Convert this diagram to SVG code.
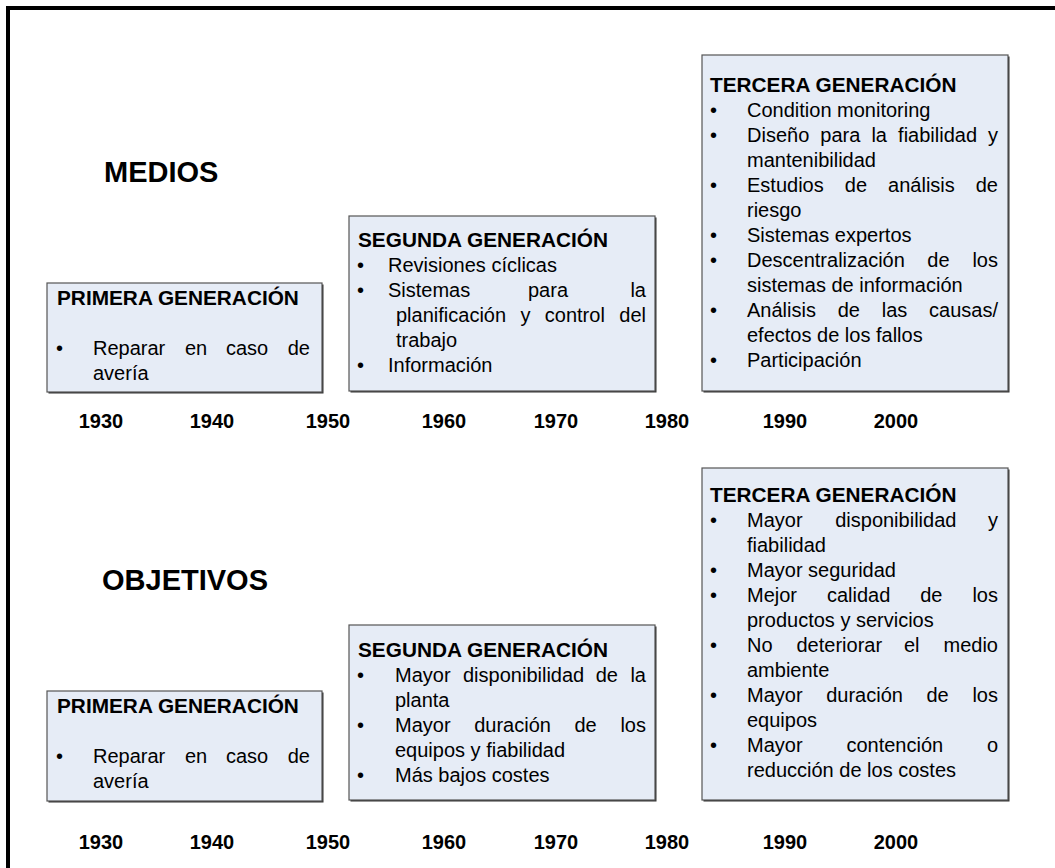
<svg xmlns="http://www.w3.org/2000/svg" width="1055" height="868" viewBox="0 0 1055 868">
<style>
text{font-family:"Liberation Sans",Arial,sans-serif;fill:#000}
.box{fill:#E6ECF6;stroke:#555;stroke-width:1.2}
.sh{fill:#333}
.t{font-size:20.8px;font-weight:bold}
.x{font-size:20px}
.yr{font-size:20px;font-weight:bold;text-anchor:middle}
.hd{font-size:29px;font-weight:bold}
.e{text-anchor:end}
</style>
<rect x="8" y="8" width="1100" height="900" fill="#fff" stroke="#000" stroke-width="4"/>

<text class="hd" x="104" y="182">MEDIOS</text>
<text class="hd" x="102" y="590">OBJETIVOS</text>

<g id="medios-primera">
<rect class="sh" x="48.5" y="284.5" width="275" height="109"/>
<rect class="box" x="47" y="283" width="275" height="109"/>
<text class="t" x="57" y="305">PRIMERA GENERACIÓN</text>
<text class="x" x="56" y="355">•</text>
<text class="x" y="355"><tspan x="93">Reparar</tspan><tspan x="185">en</tspan><tspan x="226">caso</tspan><tspan x="310" text-anchor="end">de</tspan></text>
<text class="x" x="93" y="380">avería</text>
</g>

<g id="medios-segunda">
<rect class="sh" x="350.5" y="217.5" width="306" height="175"/>
<rect class="box" x="349" y="216" width="306" height="175"/>
<text class="t" x="358" y="247">SEGUNDA GENERACIÓN</text>
<text class="x" x="357" y="272">•</text>
<text class="x" x="388" y="272">Revisiones cíclicas</text>
<text class="x" x="357" y="297">•</text>
<text class="x" y="297"><tspan x="388">Sistemas</tspan><tspan x="528">para</tspan><tspan x="646" text-anchor="end">la</tspan></text>
<text class="x" y="322"><tspan x="396">planificación</tspan><tspan x="520.4">y</tspan><tspan x="544.8">control</tspan><tspan x="646" text-anchor="end">del</tspan></text>
<text class="x" x="396" y="347">trabajo</text>
<text class="x" x="357" y="372">•</text>
<text class="x" x="388" y="372">Información</text>
</g>

<g id="medios-tercera">
<rect class="sh" x="703.5" y="56.5" width="306" height="336"/>
<rect class="box" x="702" y="55" width="306" height="336"/>
<text class="t" x="710" y="92">TERCERA GENERACIÓN</text>
<text class="x" x="710" y="117">•</text>
<text class="x" x="710" y="142">•</text>
<text class="x" x="710" y="192">•</text>
<text class="x" x="710" y="242">•</text>
<text class="x" x="710" y="267">•</text>
<text class="x" x="710" y="317">•</text>
<text class="x" x="710" y="367">•</text>
<text class="x" x="747" y="117">Condition monitoring</text>
<text class="x" y="142"><tspan x="747">Diseño</tspan><tspan x="820.3">para</tspan><tspan x="871.4">la</tspan><tspan x="898.1">fiabilidad</tspan><tspan x="998" text-anchor="end">y</tspan></text>
<text class="x" x="747" y="167">mantenibilidad</text>
<text class="x" y="192"><tspan x="747">Estudios</tspan><tspan x="844.8">de</tspan><tspan x="888.1">análisis</tspan><tspan x="998" text-anchor="end">de</tspan></text>
<text class="x" x="747" y="217">riesgo</text>
<text class="x" x="747" y="242">Sistemas expertos</text>
<text class="x" y="267"><tspan x="747">Descentralización</tspan><tspan x="927.3">de</tspan><tspan x="998" text-anchor="end">los</tspan></text>
<text class="x" x="747" y="292">sistemas de información</text>
<text class="x" y="317"><tspan x="747">Análisis</tspan><tspan x="837.7">de</tspan><tspan x="881.7">las</tspan><tspan x="998" text-anchor="end">causas/</tspan></text>
<text class="x" x="747" y="342">efectos de los fallos</text>
<text class="x" x="747" y="367">Participación</text>
</g>

<g id="years-top">
<text class="yr" x="101" y="428">1930</text>
<text class="yr" x="212" y="428">1940</text>
<text class="yr" x="328" y="428">1950</text>
<text class="yr" x="444" y="428">1960</text>
<text class="yr" x="556" y="428">1970</text>
<text class="yr" x="667" y="428">1980</text>
<text class="yr" x="785" y="428">1990</text>
<text class="yr" x="896" y="428">2000</text>
</g>

<g id="objetivos-primera">
<rect class="sh" x="48.5" y="692.5" width="275" height="110"/>
<rect class="box" x="47" y="691" width="275" height="110"/>
<text class="t" x="57" y="713">PRIMERA GENERACIÓN</text>
<text class="x" x="56" y="763">•</text>
<text class="x" y="763"><tspan x="93">Reparar</tspan><tspan x="185">en</tspan><tspan x="226">caso</tspan><tspan x="310" text-anchor="end">de</tspan></text>
<text class="x" x="93" y="788">avería</text>
</g>

<g id="objetivos-segunda">
<rect class="sh" x="350.5" y="626.5" width="306" height="175"/>
<rect class="box" x="349" y="625" width="306" height="175"/>
<text class="t" x="358" y="657">SEGUNDA GENERACIÓN</text>
<text class="x" x="357" y="682">•</text>
<text class="x" y="682"><tspan x="395">Mayor</tspan><tspan x="463">disponibilidad</tspan><tspan x="595.7">de</tspan><tspan x="646" text-anchor="end">la</tspan></text>
<text class="x" x="395" y="707">planta</text>
<text class="x" x="357" y="732">•</text>
<text class="x" y="732"><tspan x="395">Mayor</tspan><tspan x="474.2">duración</tspan><tspan x="574.5">de</tspan><tspan x="646" text-anchor="end">los</tspan></text>
<text class="x" x="395" y="757">equipos y fiabilidad</text>
<text class="x" x="357" y="782">•</text>
<text class="x" x="395" y="782">Más bajos costes</text>
</g>

<g id="objetivos-tercera">
<rect class="sh" x="703.5" y="469.5" width="306" height="332"/>
<rect class="box" x="702" y="468" width="306" height="332"/>
<text class="t" x="710" y="502">TERCERA GENERACIÓN</text>
<text class="x" x="710" y="527">•</text>
<text class="x" x="710" y="577">•</text>
<text class="x" x="710" y="602">•</text>
<text class="x" x="710" y="652">•</text>
<text class="x" x="710" y="702">•</text>
<text class="x" x="710" y="752">•</text>
<text class="x" y="527"><tspan x="747">Mayor</tspan><tspan x="835.2">disponibilidad</tspan><tspan x="998" text-anchor="end">y</tspan></text>
<text class="x" x="747" y="552">fiabilidad</text>
<text class="x" x="747" y="577">Mayor seguridad</text>
<text class="x" y="602"><tspan x="747">Mejor</tspan><tspan x="826.9">calidad</tspan><tspan x="920.2">de</tspan><tspan x="998" text-anchor="end">los</tspan></text>
<text class="x" x="747" y="627">productos y servicios</text>
<text class="x" y="652"><tspan x="747">No</tspan><tspan x="796.5">deteriorar</tspan><tspan x="904">el</tspan><tspan x="998" text-anchor="end">medio</tspan></text>
<text class="x" x="747" y="677">ambiente</text>
<text class="x" y="702"><tspan x="747">Mayor</tspan><tspan x="826.2">duración</tspan><tspan x="926.5">de</tspan><tspan x="998" text-anchor="end">los</tspan></text>
<text class="x" x="747" y="727">equipos</text>
<text class="x" y="752"><tspan x="747">Mayor</tspan><tspan x="846.4">contención</tspan><tspan x="998" text-anchor="end">o</tspan></text>
<text class="x" x="747" y="777">reducción de los costes</text>
</g>

<g id="years-bottom">
<text class="yr" x="101" y="849">1930</text>
<text class="yr" x="212" y="849">1940</text>
<text class="yr" x="328" y="849">1950</text>
<text class="yr" x="444" y="849">1960</text>
<text class="yr" x="556" y="849">1970</text>
<text class="yr" x="667" y="849">1980</text>
<text class="yr" x="785" y="849">1990</text>
<text class="yr" x="896" y="849">2000</text>
</g>

<g id="connectors"/>
</svg>
